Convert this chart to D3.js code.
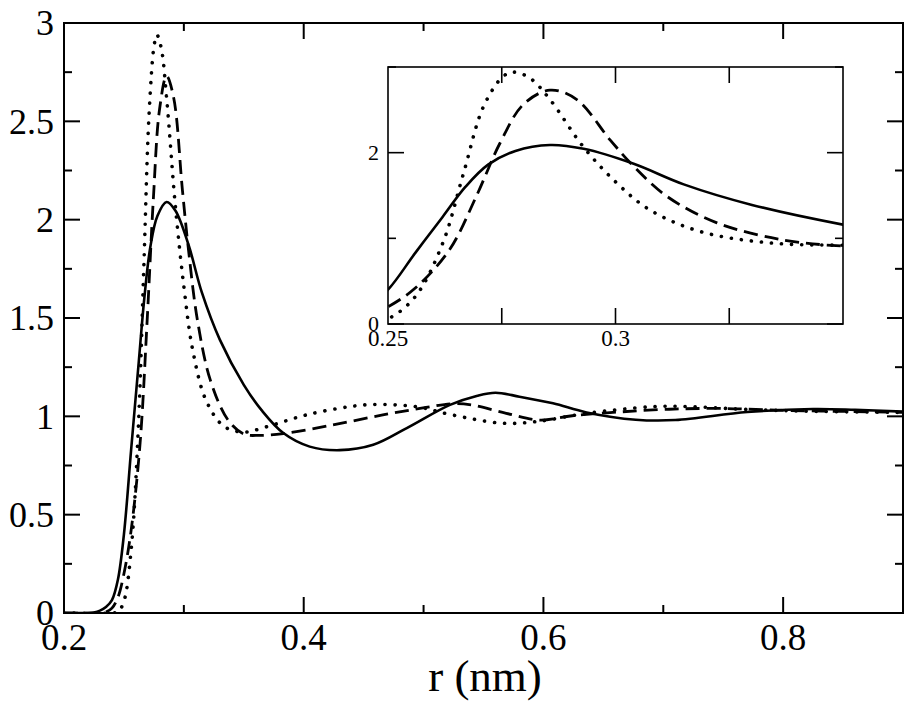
<!DOCTYPE html>
<html><head><meta charset="utf-8">
<script src="https://cdn.jsdelivr.net/npm/d3@7"></script>
<style>body{margin:0;background:#fff}svg{display:block}</style>
</head><body>
<svg id="c" width="906" height="707"></svg>
<script>
// ---- data (r in nm, g(r)) ----
const solidR = [0.20,0.22,0.225,0.23,0.235,0.24,0.245,0.25,0.256,0.262,0.267,0.272,0.278,0.2856,0.293,0.304,0.315,0.33,0.35,0.365,0.383,0.405,0.43,0.458,0.486,0.522,0.545,0.56,0.58,0.608,0.636,0.677,0.71,0.77,0.825,0.86,0.9];
const solidG = [0,0,0.003,0.012,0.03,0.065,0.17,0.40,0.83,1.25,1.60,1.86,2.02,2.09,2.045,1.87,1.63,1.39,1.16,1.03,0.915,0.846,0.828,0.855,0.94,1.058,1.105,1.12,1.10,1.066,1.02,0.983,0.981,1.022,1.037,1.033,1.024];

const dashR = [0.20,0.23,0.235,0.24,0.245,0.25,0.256,0.2635,0.2694,0.2746,0.2797,0.2856,0.2915,0.2988,0.304,0.3113,0.3223,0.337,0.35,0.363,0.383,0.424,0.466,0.502,0.524,0.54,0.569,0.597,0.624,0.663,0.705,0.75,0.8,0.85,0.9];
const dashG = [0,0,0.005,0.025,0.08,0.20,0.42,0.865,1.49,2.11,2.56,2.73,2.62,2.15,1.84,1.49,1.18,0.98,0.91,0.903,0.912,0.956,1.007,1.045,1.064,1.058,1.015,0.981,1.003,1.022,1.036,1.04,1.03,1.025,1.02];

const dotR = [0.20,0.24,0.245,0.25,0.256,0.262,0.2666,0.271,0.2753,0.2775,0.2812,0.2856,0.2929,0.3002,0.3076,0.3186,0.3333,0.35,0.369,0.402,0.438,0.458,0.494,0.524,0.566,0.594,0.636,0.691,0.72,0.77,0.83,0.9];
const dotG = [0,0,0.005,0.06,0.32,0.94,1.76,2.54,2.89,2.94,2.87,2.62,2.07,1.65,1.33,1.08,0.95,0.92,0.947,1.007,1.049,1.06,1.049,1.007,0.965,0.973,1.015,1.049,1.05,1.035,1.025,1.02];

const mainXTicks = [0.2,0.4,0.6,0.8];
const mainXMinor = [0.3,0.5,0.7,0.9];
const mainYTicks = [0,0.5,1,1.5,2,2.5,3];
const mainYMinor = [0.25,0.75,1.25,1.75,2.25,2.75];
const insetXLabels = [0.25,0.3];
const insetXTicks = [0.275,0.3,0.325];
const insetYTicks = [0,2];
const insetYMinor = [1,3];

const series = [
  {r: solidR, g: solidG, dash: null, w: 2.6, cap: "butt"},
  {r: dashR, g: dashG, dash: "14,7", w: 2.8, cap: "butt"},
  {r: dotR, g: dotG, dash: "0.1,10", w: 3.6, cap: "round"}
];

const svg = d3.select("#c");
const font = "'Liberation Serif','Times New Roman',serif";

// ---- main plot ----
const M = {l:64, r:903, t:23, b:613};
const x = d3.scaleLinear().domain([0.2,0.9]).range([M.l, M.r]);
const y = d3.scaleLinear().domain([0,3]).range([M.b, M.t]);

const defs = svg.append("defs");
defs.append("clipPath").attr("id","mclip").append("rect")
  .attr("x",M.l).attr("y",M.t-2).attr("width",M.r-M.l).attr("height",M.b-M.t+2);

const mainG = svg.append("g").attr("clip-path","url(#mclip)");
function drawSeries(g, xs, ys){
  series.forEach(s=>{
    const pts = s.r.map((r,i)=>[r,s.g[i]]);
    const line = d3.line().x(d=>xs(d[0])).y(d=>ys(d[1])).curve(d3.curveCatmullRom.alpha(0.5));
    g.append("path").attr("d", line(pts)).attr("fill","none").attr("stroke","#000")
      .attr("stroke-width", s.w).attr("stroke-dasharray", s.dash)
      .attr("stroke-linecap", s.cap).attr("stroke-linejoin","round");
  });
}
drawSeries(mainG, x, y);

function ticks(g, X, Y, box, xt, xm, yt, ym, majL, minL, sw){
  const t = g.append("g").attr("stroke","#000").attr("stroke-width",sw);
  const seg = (x1,y1,x2,y2)=>t.append("line").attr("x1",x1).attr("y1",y1).attr("x2",x2).attr("y2",y2);
  xt.forEach(v=>{ seg(X(v),box.b,X(v),box.b-majL); seg(X(v),box.t,X(v),box.t+majL); });
  xm.forEach(v=>{ seg(X(v),box.b,X(v),box.b-minL); seg(X(v),box.t,X(v),box.t+minL); });
  yt.forEach(v=>{ seg(box.l,Y(v),box.l+majL,Y(v)); seg(box.r,Y(v),box.r-majL,Y(v)); });
  ym.forEach(v=>{ seg(box.l,Y(v),box.l+minL,Y(v)); seg(box.r,Y(v),box.r-minL,Y(v)); });
}
ticks(svg, x, y, M, mainXTicks, mainXMinor, mainYTicks, mainYMinor, 16, 8, 2);

svg.append("rect").attr("x",M.l).attr("y",M.t).attr("width",M.r-M.l).attr("height",M.b-M.t)
  .attr("fill","none").attr("stroke","#000").attr("stroke-width",2);

const fmt = v => String(v);
svg.append("g").selectAll("text").data(mainXTicks).join("text")
  .attr("x",d=>x(d)).attr("y",650).attr("text-anchor","middle")
  .attr("font-family",font).attr("font-size",37).text(fmt);
svg.append("g").selectAll("text").data(mainYTicks).join("text")
  .attr("x",54).attr("y",d=>y(d)).attr("dy","0.34em").attr("text-anchor","end")
  .attr("font-family",font).attr("font-size",36).text(fmt);
svg.append("text").attr("x",485).attr("y",691).attr("text-anchor","middle")
  .attr("font-family",font).attr("font-size",45).text("r (nm)");

// ---- inset ----
const I = {l:388, r:843, t:67, b:324};
const xi = d3.scaleLinear().domain([0.25,0.35]).range([I.l, I.r]);
const yi = d3.scaleLinear().domain([0,3]).range([I.b, I.t]);
svg.append("rect").attr("x",I.l).attr("y",I.t).attr("width",I.r-I.l).attr("height",I.b-I.t).attr("fill","#fff");
defs.append("clipPath").attr("id","iclip").append("rect")
  .attr("x",I.l).attr("y",I.t).attr("width",I.r-I.l).attr("height",I.b-I.t);
const insG = svg.append("g").attr("clip-path","url(#iclip)");
drawSeries(insG, xi, yi);
ticks(svg, xi, yi, I, insetXTicks, [], insetYTicks, insetYMinor, 16, 8, 1.6);
svg.append("rect").attr("x",I.l).attr("y",I.t).attr("width",I.r-I.l).attr("height",I.b-I.t)
  .attr("fill","none").attr("stroke","#000").attr("stroke-width",1.6);
svg.append("g").selectAll("text").data(insetXLabels).join("text")
  .attr("x",d=>xi(d)).attr("y",346).attr("text-anchor","middle")
  .attr("font-family",font).attr("font-size",23).text(fmt);
svg.append("g").selectAll("text").data(insetYTicks).join("text")
  .attr("x",379).attr("y",d=>yi(d)).attr("dy","0.34em").attr("text-anchor","end")
  .attr("font-family",font).attr("font-size",22).text(fmt);
</script>
</body></html>
